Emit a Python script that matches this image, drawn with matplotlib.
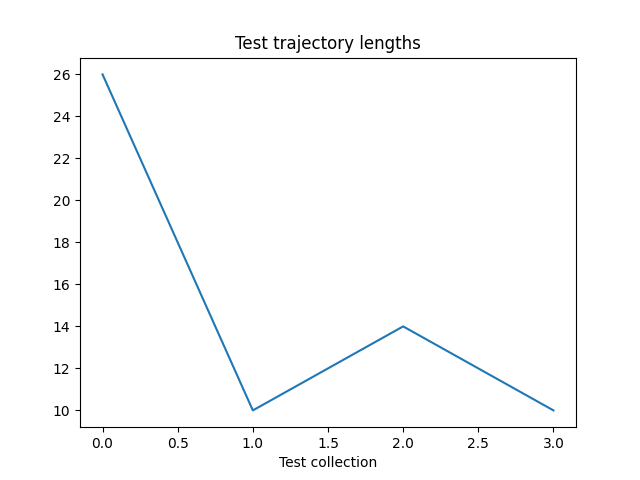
import matplotlib
matplotlib.use("Agg")
import matplotlib.pyplot as plt

collections = [0, 1, 2, 3]
lengths = [26, 10, 14, 10]

fig = plt.figure(figsize=(6.4, 4.8), dpi=100)
plt.plot(collections, lengths)
plt.title("Test trajectory lengths")
plt.xlabel("Test collection")
plt.savefig("out.png")
